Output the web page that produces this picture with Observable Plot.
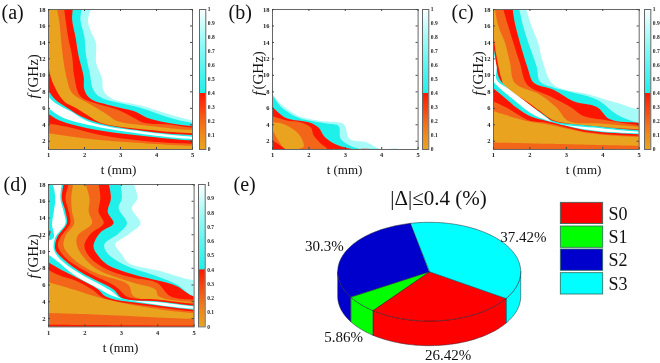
<!DOCTYPE html>
<html><head><meta charset="utf-8">
<script src="https://cdn.jsdelivr.net/npm/d3@7"></script>
<script src="https://cdn.jsdelivr.net/npm/@observablehq/plot@0.6"></script>
<style>
html,body{margin:0;padding:0;background:#fff}
#fig{position:relative;width:660px;height:363px;overflow:hidden;filter:blur(0.35px)}
#fig svg{position:absolute;background:transparent;overflow:visible}
</style></head><body><div id="fig"></div>
<script>
// ---------- data: contour boundaries as [t (mm), f (GHz)]
const aLight=[[2.19,18],[2.11,16.5],[2.19,15.3],[2.33,13.9],[2.34,11.4],[2.5,9.6],[2.55,8],[2.78,7.1],[3.66,6.2],[4.3,5.3],[5,4.5]];
const aCyan=[[1.94,18],[1.9,16.7],[2.01,14.7],[2.06,12.3],[2.16,10.2],[2.25,8.3],[2.45,7.3],[3.56,6],[4.31,4.9],[5,4.2]];
const aRed=[[1.69,18],[1.67,16.7],[1.76,14.7],[1.85,12.3],[1.99,9.8],[2.01,8.2],[2.18,7.1],[2.82,6.2],[3.38,5.6],[3.75,4.8],[4.31,4.2],[5,3.8]];
const aOrangeRed=[[1.45,18],[1.5,16.3],[1.57,14.3],[1.67,12.3],[1.73,9.8],[1.9,7.4],[2.36,6.5],[2.92,5.8],[3.38,4.8],[3.66,4.2],[4.31,4],[5,3.6]];
const aOrange=[[1.25,18],[1.32,16.3],[1.37,13.9],[1.44,11.4],[1.53,9.4],[1.67,7.8],[2.18,6.4],[2.64,5.2],[2.92,4.4],[3.84,3.8],[5,3.3]];
const aRidgeRed=[[1,13.1],[1.05,10.2],[1.2,8.4],[1.44,6.8],[1.76,6],[2.13,5],[2.45,4.2],[3.84,3.3],[5,2.9]];
const aRidgeCyan=[[1,9.6],[1.02,8.2],[1.2,7],[1.53,6],[1.9,5],[2.45,4.1],[3.84,3.1],[5,2.7]];
const aWhite=[[1,7.4],[1.2,6.6],[1.62,5.6],[1.99,4.6],[2.45,3.9],[3.84,3],[5,2.5]];
const aLowCyan=[[1,6],[1.25,5.2],[1.53,4.6],[2.36,3.7],[3.84,2.7],[5,2.2]];
const aLowRed=[[1,5.3],[1.3,4.5],[2.36,3.3],[3.84,2.5],[5,2.05]];
const aLowOrangeRed=[[1,4.1],[1.53,3.7],[2.45,2.7],[3.84,1.9],[5,1.65]];
const aLowOrange=[[1,2.9],[1.99,2.3],[2.92,1.9],[3.84,1.65],[5,1.4]];

const bLight=[[1,7.8],[1.21,6.6],[1.73,5],[2.33,4.4],[2.97,4],[3.13,2.2],[3.61,1.8],[3.97,1]];
const bCyan=[[1,7.7],[1.23,6.2],[1.73,4.8],[2.51,4.1],[2.83,3.8],[2.88,2.3],[3.06,1.6],[3.43,1]];
const bRed=[[1,6.2],[1.37,4.8],[2.05,4.2],[2.28,3.6],[2.44,2.5],[2.78,1.5],[3.2,1]];
const bOrangeRed=[[1,5],[1.37,4.5],[1.82,4.2],[2.07,3.6],[2.14,2.7],[2.33,1.7],[2.51,1],[1.41,1],[1.14,1.7],[1,2.1]];
const bOrange=[[1,4.2],[1.27,4.1],[1.64,3.2],[1.82,2.2],[1.87,1.3],[1.73,1],[1.37,1],[1.14,2.3],[1,3.5]];

const cLight=[[1.91,18],[2.06,15.9],[2.24,13.9],[2.38,11.4],[2.66,8.8],[3.66,7.6],[4.4,6.6],[5,5.8]];
const cCyan=[[1.72,18],[1.83,15.9],[1.97,13.9],[2.2,11],[2.29,9.2],[2.7,8.4],[3.85,7],[4.4,5.2],[5,4.2]];
const cRed=[[1.54,18],[1.6,16.3],[1.74,13.9],[1.94,11],[2.13,9],[2.66,8.2],[3.21,6.8],[3.85,6.1],[4.21,4.6],[5,4.2]];
const cOrangeRed=[[1.28,18],[1.42,15.9],[1.56,13.9],[1.74,11.4],[1.94,8.8],[2.57,7.4],[3.16,6],[3.48,5],[4.12,4.5],[5,3.9]];
const cOrange=[[1.05,18],[1.15,15.9],[1.33,13.9],[1.47,11.4],[1.6,9],[2.29,7.6],[2.75,6],[3.07,4.4],[3.94,4.1],[5,3.7]];
const cRidgeRed=[[1,15.5],[1.08,12.7],[1.24,9.4],[1.33,8.5],[1.92,6.8],[2.29,5.6],[2.66,4.5],[3.76,3.8],[5,3.4]];
const cRidgeCyan=[[1,14.3],[1.05,12.5],[1.17,9.6],[1.38,8.5],[1.92,6.6],[2.38,5.2],[2.66,4.4],[3.76,3.8],[5,3.3]];
const cWhite=[[1,13],[1.1,11],[1.1,9.4],[1.42,8.3],[1.97,6.5],[2.47,4.8],[2.66,4.2],[3.76,3.6],[5,3.1]];
const cLowCyan=[[1,9.2],[1.28,8],[1.56,7],[2.02,5.4],[2.47,4.5],[3.66,3.3],[5,2.9]];
const cLowRed=[[1,8.4],[1.33,7.2],[1.65,6],[2.06,4.9],[2.47,4.4],[3.66,3.2],[5,2.8]];
const cLowOrangeRed=[[1,6.8],[1.38,6],[1.97,4.5],[2.47,4.2],[3.66,3],[5,2.6]];
const cLowOrange=[[1,5.6],[1.92,4.4],[2.47,4],[3.66,2.9],[5,2.45]];
const cBaseOrangeRed=[[1,1.8],[5,1.4]];

const dLight=[[3.35,18],[3.46,16.3],[3.3,15.1],[3.54,13.3],[3.22,12],[2.85,10.8],[3.03,9.6],[3.2,8.6],[4.08,7.6],[5,6.5]];
const dCyan=[[2.99,18],[3.03,16.3],[2.94,15.1],[3.17,13.3],[2.94,12.1],[2.55,10.8],[2.62,9.8],[3.08,8.4],[3.99,7],[4.54,6],[5,4.6]];
const dRed=[[2.67,18],[2.73,16.3],[2.64,14.7],[2.8,13.3],[2.44,12.2],[2.25,10.6],[2.35,9.6],[2.62,8.4],[3.35,7.2],[3.99,6.5],[4.54,5.8],[5,4.6]];
const dOrangeRed=[[2.39,18],[2.44,16.3],[2.39,14.7],[2.53,13.3],[2.16,12],[2,10.6],[2.16,9.2],[2.62,7.8],[3.35,6.8],[3.99,6.2],[4.36,4.6],[5,4.2]];
const dOrange=[[2.03,18],[2.14,16.3],[2.12,14.7],[2.21,13.3],[1.81,11.8],[1.8,10.6],[2.07,8.8],[2.44,7.6],[3.35,6.2],[3.95,5.4],[4.04,4.6],[5,3.9]];
const dRidgeOrangeRed=[[1.69,18],[1.64,16.3],[1.66,14.7],[1.72,13.3],[1.48,11.8],[1.43,10.6],[1.66,9.2],[2.3,7.4],[3.2,6],[3.35,4.6],[3.99,4.1],[5,3.8]];
const dRidgeRed=[[1.57,18],[1.48,16.3],[1.57,14.7],[1.61,13.3],[1.34,11.6],[1.27,10.6],[1.48,9.2],[2.11,7.4],[2.85,5.8],[3.2,4.5],[3.99,4.2],[5,3.7]];
const dRidgeCyan=[[1.43,18],[1.38,16.3],[1.48,14.7],[1.52,13.3],[1.25,11.6],[1.2,10.2],[1.38,9.2],[1.93,7.4],[2.8,5.4],[3.03,4.4],[3.99,4],[5,3.5]];
const dWhite=[[1.38,18],[1.34,16.3],[1.43,14.7],[1.48,13.3],[1.2,11.6],[1.16,10.2],[1.34,9],[1.84,7.4],[2.71,5.3],[3.03,4.3],[3.99,3.9],[5,3.4]];
const dLeftCyan=[[1,18],[1.11,18],[1.2,16.3],[1.16,14.7],[1.11,13.2],[1.16,11.6],[1,11.2]];
const dLeftRed=[[1,12.5],[1.07,12.3],[1,11.6]];
const dLowCyan=[[1,9.6],[1.25,8.8],[1.7,7.2],[2.44,5.4],[2.8,4.6],[3.81,3.7],[5,3.1]];
const dLowRed=[[1,8.7],[1.43,7.6],[1.89,6.6],[2.35,5.5],[2.62,4.5],[3.81,3.6],[5,3]];
const dLowOrangeRed=[[1,7.8],[1.25,7.2],[1.8,6.4],[2.21,5.4],[2.53,4.4],[3.81,3.4],[5,2.8]];
const dLowOrange=[[1,6.3],[1.7,5.4],[2.53,4.3],[3.81,3.2],[5,2.6]];
const dBaseOrangeRed=[[1,2.6],[2.44,2.4],[5,1.9]];
const dBaseRed=[[1,1.2],[5,1.1]];

// pie
const pieNames=["S0","S1","S2","S3"];
const pieValues=[26.42,5.86,30.3,37.42];
const pieColors=["#ff0000","#00ff00","#0000cd","#00ffff"];
const pieStartDeg=-33;
const tTicks=[1,2,3,4,5];
const fTicks=[2,4,6,8,10,12,14,16,18];
const barTicks=[0,.1,.2,.3,.4,.5,.6,.7,.8,.9,1];

// ---------- palette
const ORANGE="#e9a31f",OR="#f3661a",RED="#ff1500",CYAN="#20f0ea",LIGHT="#a6fbf8",WHITE="#ffffff";
const SERIF="'Liberation Serif','Times New Roman',serif";
const fig=document.getElementById("fig");
const put=(svg,left,top)=>{svg.style.left=left+"px";svg.style.top=top+"px";fig.appendChild(svg);};

// a boundary closes past the frame (clipped) so that everything below and left of it is filled
const fan=c=>{const [lx,ly]=c[c.length-1];
  return [...c,[lx+.5,ly],[5.6,-1],[-.6,-1],[-.6,20],[c[0][0],20]];};
const poly=(c,fill)=>Plot.area(c,{x1:d=>d[0],y1:d=>d[1],x2:()=>c[0][0],y2:()=>c[0][1],fill,curve:"catmull-rom",clip:true});

const barColor=d3.scaleLinear()
  .domain([0,.1,.2,.4,.4001,.6,.8,1])
  .range([ORANGE,"#ee8a1c",OR,RED,CYAN,"#5ff6f2",LIGHT,WHITE]);
const barSteps=d3.range(0,1,.01);

function panel(layers,[x0,x1,y0,y1],[b0,b1]){
  const m=22, frame="#666", tc="#444";
  const chart=Plot.plot({
    width:x1-x0+2*m,height:y1-y0+2*m,
    marginLeft:m,marginRight:m,marginTop:m,marginBottom:m,
    style:{fontFamily:SERIF,fontSize:"6.5px",fontWeight:"bold",background:"transparent",color:"#222"},
    x:{domain:[1,5],label:null},y:{domain:[1,18],label:null},
    marks:[
      ...layers.map(([c,fill])=>poly(c,fill)),
      Plot.frame({stroke:frame,strokeWidth:1}),
      Plot.axisX({ticks:tTicks,tickSize:-2,tickPadding:5,tickFormat:d=>String(d),label:null,stroke:tc}),
      Plot.ruleX(tTicks,{x:d=>d,y1:18,y2:17.76,stroke:tc}),
      Plot.axisY({ticks:fTicks,tickSize:-2,tickPadding:5,tickFormat:d=>String(d),label:null,stroke:tc}),
      Plot.ruleY(fTicks,{y:d=>d,x1:5,x2:4.945,stroke:tc})
    ]
  });
  put(chart,x0-m,y0-m);
  const bar=Plot.plot({
    width:b1-b0+2*m,height:y1-y0+2*m,
    marginLeft:m,marginRight:m,marginTop:m,marginBottom:m,
    style:{fontFamily:SERIF,fontSize:"5.5px",fontWeight:"bold",background:"transparent",color:"#222"},
    x:{domain:[0,1],axis:null},y:{domain:[0,1],label:null},
    marks:[
      Plot.rect(barSteps,{x1:0,x2:1,y1:d=>d,y2:d=>Math.min(1,d+.02),fill:d=>barColor(d+.001)}),
      Plot.frame({stroke:frame,strokeWidth:1}),
      Plot.axisY({anchor:"right",ticks:barTicks,tickSize:0,tickPadding:2,tickFormat:d=>String(d),label:null})
    ]
  });
  put(bar,b0-m,y0-m);
}

panel([[fan(aLight),LIGHT],[fan(aCyan),CYAN],[fan(aRed),RED],[fan(aOrangeRed),OR],[fan(aOrange),ORANGE],
       [fan(aRidgeRed),RED],[fan(aRidgeCyan),CYAN],[fan(aWhite),WHITE],[fan(aLowCyan),CYAN],[fan(aLowRed),RED],
       [fan(aLowOrangeRed),OR],[fan(aLowOrange),ORANGE]],[47.7,191.7,9.3,149.3],[198.7,205]);
panel([[fan(bLight),LIGHT],[fan(bCyan),CYAN],[fan(bRed),RED],[bOrangeRed,OR],[bOrange,ORANGE]],
      [271.7,417.3,9.3,149.3],[422,428.3]);
panel([[fan(cLight),LIGHT],[fan(cCyan),CYAN],[fan(cRed),RED],[fan(cOrangeRed),OR],[fan(cOrange),ORANGE],
       [fan(cRidgeRed),RED],[fan(cRidgeCyan),CYAN],[fan(cWhite),WHITE],[fan(cLowCyan),CYAN],[fan(cLowRed),RED],
       [fan(cLowOrangeRed),OR],[fan(cLowOrange),ORANGE],[fan(cBaseOrangeRed),OR]],[493,638.7,9.3,149.3],[643.7,650]);
panel([[fan(dLight),LIGHT],[fan(dCyan),CYAN],[fan(dRed),RED],[fan(dOrangeRed),OR],[fan(dOrange),ORANGE],
       [fan(dRidgeOrangeRed),OR],[fan(dRidgeRed),RED],[fan(dRidgeCyan),CYAN],[fan(dWhite),WHITE],[dLeftCyan,CYAN],[dLeftRed,RED],
       [fan(dLowCyan),CYAN],[fan(dLowRed),RED],[fan(dLowOrangeRed),OR],[fan(dLowOrange),ORANGE],
       [fan(dBaseOrangeRed),OR],[fan(dBaseRed),RED]],[47.7,193.3,184.3,326.7],[198.3,205]);

// ---------- 3-D pie, in unit-ellipse coordinates
const total=d3.sum(pieValues);
let ang=pieStartDeg;
const slices=pieValues.map((v,i)=>{const a0=ang;ang-=v/total*360;return {i,a0,a1:ang};});
const arc=(a0,a1)=>{const n=Math.max(2,Math.ceil(Math.abs(a1-a0)/2));
  return d3.range(n+1).map(k=>{const a=(a0+(a1-a0)*k/n)*Math.PI/180;return [Math.cos(a),Math.sin(a)];});};
const DEPTH=.5;
// front wall: angles from 0 to -180. S3 wraps round past -360, so its visible part is 0 to the start angle
const wallRanges=[[3,0,pieStartDeg]];
for(const s of slices){
  const lo=Math.max(s.a1,-180), hi=Math.min(s.a0,0);
  if(hi>lo) wallRanges.push([s.i,hi,lo]);
}
const wallMarks=wallRanges.map(([i,hi,lo])=>Plot.area(arc(hi,lo),{x1:d=>d[0],y1:d=>d[1],x2:d=>d[0],y2:d=>d[1]-DEPTH,
    fill:pieColors[i],stroke:"#223",strokeWidth:.5,curve:"linear"}));
const topMarks=slices.map(s=>Plot.area(arc(s.a0,s.a1),{x1:d=>d[0],y1:d=>d[1],x2:()=>0,y2:()=>0,
  fill:pieColors[s.i],stroke:"#223",strokeWidth:.5,curve:"linear"}));
const pieLabelAnchors=[[.2,-1.69],[-.94,-1.32],[-1.15,.52],[1.025,.7]];
const pieLabels=pieValues.map((v,i)=>({t:v+"%",x:pieLabelAnchors[i][0],y:pieLabelAnchors[i][1]}));
put(Plot.plot({
  width:660,height:363,margin:0,
  style:{background:"transparent"},
  x:{domain:[-1,1],range:[337.7,520.7],axis:null},
  y:{domain:[-1,1],range:[321,222.3],axis:null},
  marks:[...wallMarks,...topMarks,
    Plot.text(pieLabels,{x:"x",y:"y",text:"t",fontFamily:SERIF,fontSize:15,fill:"#111"})]
}),0,0);

// ---------- page-level text and legend
const panelLetters=[{t:"(a)",x:1,y:12},{t:"(b)",x:228,y:12},{t:"(c)",x:451,y:12},{t:"(d)",x:3,y:184},{t:"(e)",x:233,y:184}];
const xLabels=[{x:118,y:169},{x:344,y:169},{x:583,y:169},{x:120,y:347}];
const yLabels=[{x:33,y:98},{x:258,y:95},{x:478,y:95},{x:33,y:278}];
const legendTop=[202.3,226,249,272.7];
const LEG_H=21.3;
put(Plot.plot({
  width:660,height:363,margin:0,
  style:{background:"transparent"},
  x:{domain:[0,660],range:[0,660],axis:null},
  y:{domain:[0,363],range:[0,363],axis:null},
  marks:[
    Plot.text(panelLetters,{x:"x",y:"y",text:"t",textAnchor:"start",fontFamily:SERIF,fontSize:20,fill:"#111"}),
    Plot.text(xLabels,{x:"x",y:"y",text:()=>"t (mm)",fontFamily:SERIF,fontSize:13,fill:"#111"}),
    Plot.text(yLabels,{x:"x",y:"y",text:()=>"f",rotate:-90,textAnchor:"start",fontFamily:SERIF,fontStyle:"italic",fontSize:15,fill:"#111"}),
    Plot.text(yLabels,{x:"x",y:d=>d.y-6,text:()=>"(GHz)",rotate:-90,textAnchor:"start",fontFamily:SERIF,fontSize:15,fill:"#111"}),
    Plot.text(["|Δ|≤0.4 (%)"],{x:()=>438,y:()=>198,text:d=>d,fontFamily:SERIF,fontSize:21,fill:"#111"}),
    Plot.rect(pieNames,{x1:()=>560.3,x2:()=>602.7,y1:(d,i)=>legendTop[i],y2:(d,i)=>legendTop[i]+LEG_H,
      fill:(d,i)=>pieColors[i],stroke:"#2a6a5a",strokeWidth:.8}),
    Plot.text(pieNames,{x:()=>608,y:(d,i)=>legendTop[i]+LEG_H/2+.5,text:d=>d,textAnchor:"start",fontFamily:SERIF,fontSize:18,fill:"#111"})
  ]
}),0,0);
</script></body></html>
